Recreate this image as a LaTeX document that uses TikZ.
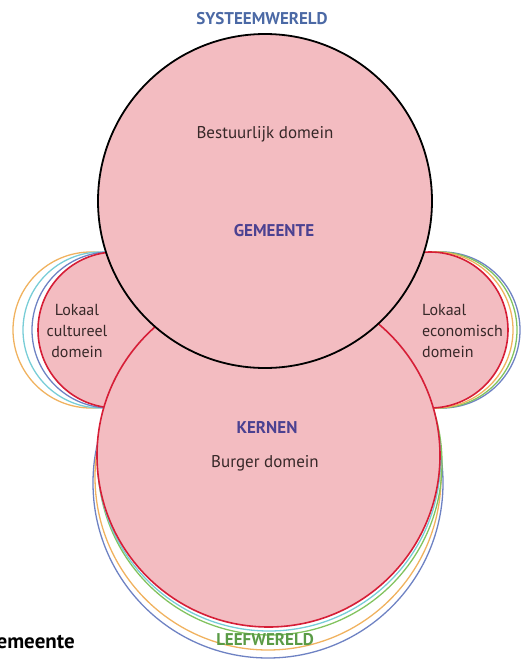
\documentclass[tikz,border=0pt]{standalone}
\usepackage{fontspec}
\setmainfont{PT Sans}
\definecolor{domfill}{RGB}{243,188,193}
\definecolor{domred}{RGB}{214,30,55}
\definecolor{ringorange}{RGB}{240,178,95}
\definecolor{ringcyan}{RGB}{120,205,215}
\definecolor{ringblue}{RGB}{110,130,195}
\definecolor{ringgreen}{RGB}{130,195,95}
\definecolor{labelpurple}{RGB}{75,65,145}
\definecolor{labelsteel}{RGB}{75,105,165}
\definecolor{labelgreen}{RGB}{90,155,70}
\definecolor{bodytext}{RGB}{55,40,40}
\begin{document}
\begin{tikzpicture}[x=1pt,y=-1pt,
  ring/.style={line width=1.3pt},
  domainbox/.style={fill=domfill, draw=domred, line width=1.6pt},
  govtbox/.style={fill=domfill, draw=black, line width=1.8pt},
  body/.style={text=bodytext, font=\fontsize{17}{21}\selectfont, inner sep=0pt},
  sidebody/.style={text=bodytext, font=\fontsize{16}{21}\selectfont, inner sep=0pt},
  heading/.style={font=\bfseries\fontsize{17}{19}\selectfont, inner sep=0pt}]
\useasboundingbox (0,0) rectangle (522,659);
\clip (0,0) rectangle (522,659);

% rings around the cultural domain
\draw[ring, ringorange] (91,330) circle[radius=78pt];
\draw[ring, ringcyan]   (101,330) circle[radius=78pt];
\draw[ring, ringblue]   (110,330) circle[radius=78pt];
% rings around the economic domain
\draw[ring, ringblue]   (442,330) circle[radius=78pt];
\draw[ring, ringgreen]  (439,330) circle[radius=78pt];
\draw[ring, ringorange] (435,330) circle[radius=78pt];
% rings around the citizens' domain
\draw[ring, ringblue]   (268,483) circle[radius=175pt];
\draw[ring, ringorange] (268,477) circle[radius=173pt];
\draw[ring, ringgreen]  (270,463) circle[radius=172pt];
\draw[ring, ringcyan]   (269,459.5) circle[radius=171.5pt];

% domains
\draw[domainbox] (116,330) circle[radius=78pt];
\draw[domainbox] (430,330) circle[radius=78pt];
\draw[domainbox] (268.5,455.5) circle[radius=171.5pt];
\draw[govtbox]   (265,201) circle[radius=167pt];

% labels
\node[heading, text=labelsteel] (systeem) at (262,18.5) {SYSTEEMWERELD};
\node[body, anchor=base] (bestuur) at (265,138) {Bestuurlijk domein};
\node[heading, text=labelpurple] (gemeente) at (274,231) {GEMEENTE};
\node[heading, text=labelpurple] (kernen) at (267,427.5) {KERNEN};
\node[body, anchor=base] (burger) at (265,467) {Burger domein};
\node[sidebody, align=center] (cultuur) at (77,331) {Lokaal\\cultureel\\domein};
\node[sidebody, align=left, anchor=west] (economie) at (422,331) {Lokaal\\economisch\\domein};
\node[heading, text=labelgreen] (leef) at (265,640) {LEEFWERELD};
\node[text=black, font=\bfseries\fontsize{21}{23}\selectfont, inner sep=0pt, anchor=base east] (legend) at (75,648) {Gemeente};
\end{tikzpicture}
\end{document}
